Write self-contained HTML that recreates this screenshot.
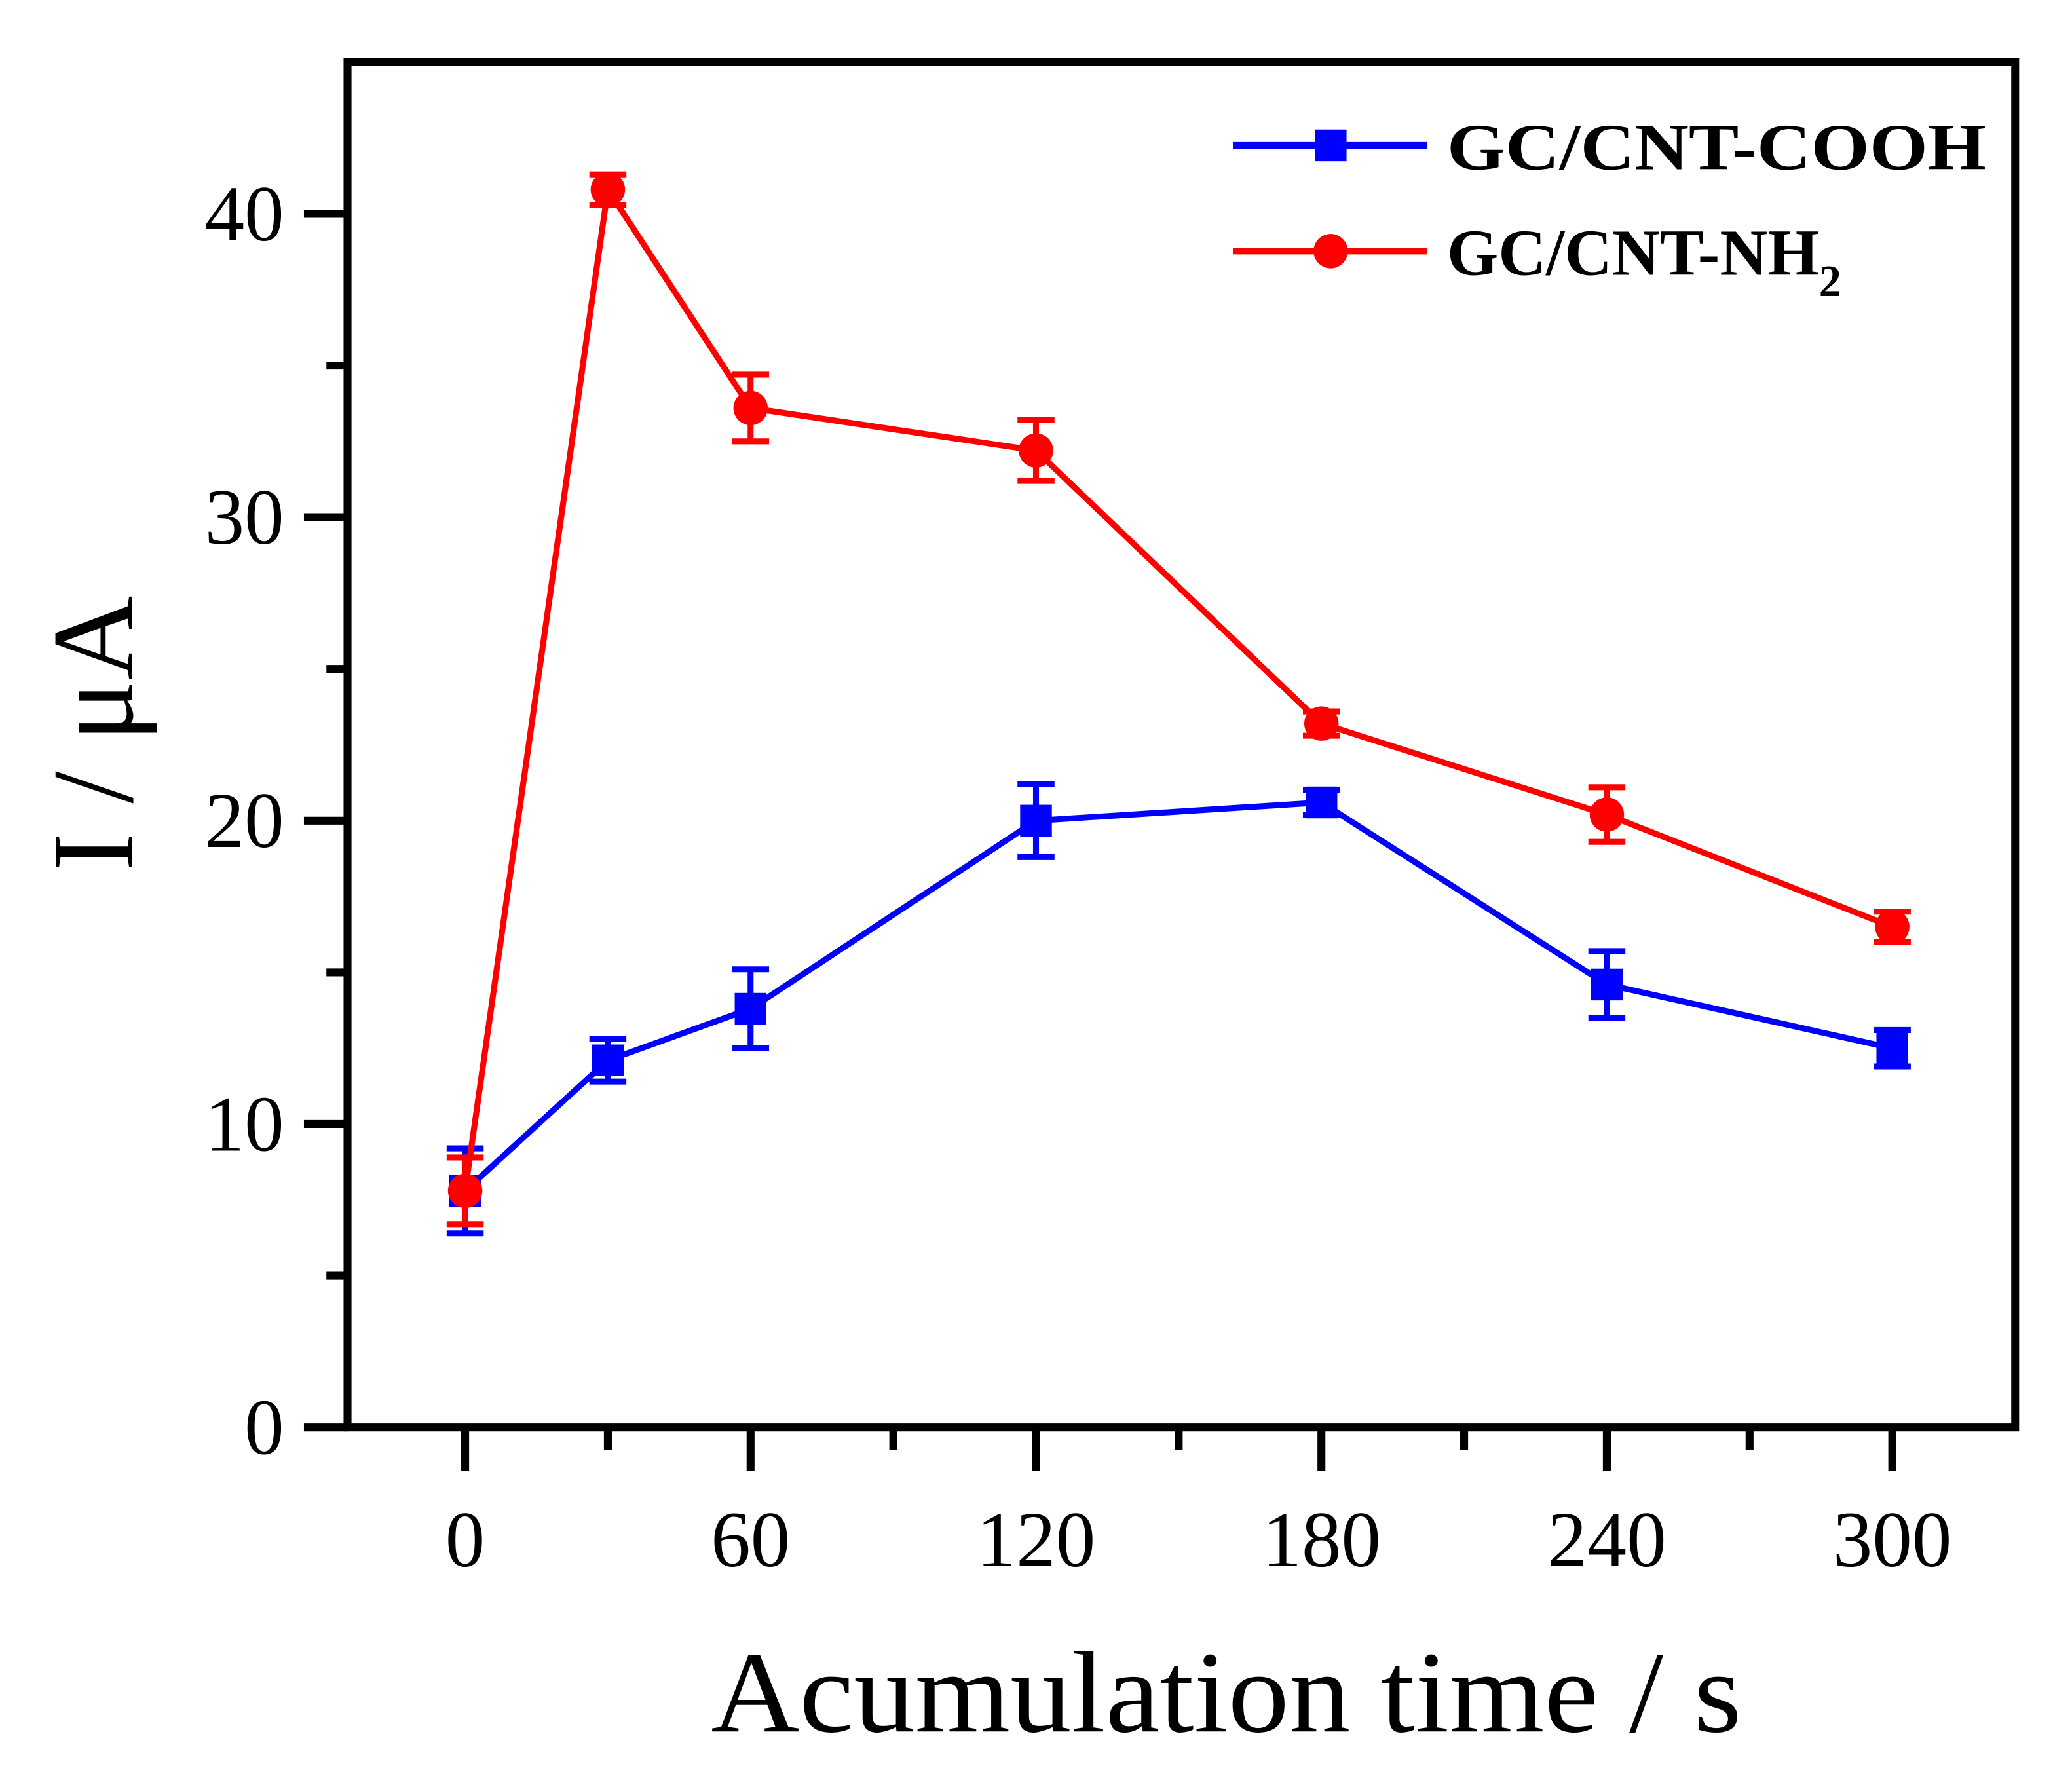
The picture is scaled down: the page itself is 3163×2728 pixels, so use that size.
<!DOCTYPE html>
<html><head><meta charset="utf-8"><style>html,body{margin:0;padding:0;background:#fff}svg{display:block}</style></head>
<body>
<svg width="3163" height="2728" viewBox="0 0 1568 1352" preserveAspectRatio="none" xmlns="http://www.w3.org/2000/svg" font-family="'Liberation Serif', serif">
<g id="plot"></g>
<text x="928" y="1310" font-size="88" text-anchor="middle" textLength="780" lengthAdjust="spacingAndGlyphs">Acumulation time / s</text>
<text transform="translate(100,555) rotate(-90)" font-size="88" text-anchor="middle">I / μA</text>
<g font-weight="bold" font-size="50">
<line x1="933" y1="110" x2="1080" y2="110" stroke="#0000ff" stroke-width="5"/>
<rect x="995" y="98" width="24" height="24" fill="#0000ff"/>
<text x="1095" y="128" textLength="408" lengthAdjust="spacingAndGlyphs">GC/CNT-COOH</text>
<line x1="933" y1="190" x2="1080" y2="190" stroke="#ff0000" stroke-width="5"/>
<circle cx="1007" cy="190" r="13" fill="#ff0000"/>
<text x="1095" y="208">GC/CNT-NH<tspan font-size="34" dy="16">2</tspan></text>
</g>
</svg>
<script>
const xValues=[0,30,60,120,180,240,300];
const coohValues=[7.8,12.1,13.8,20.0,20.6,14.6,12.5];
const coohErr=[1.4,0.7,1.3,1.2,0.4,1.1,0.6];
const nh2Values=[7.8,40.8,33.6,32.2,23.2,20.2,16.5];
const nh2Err=[1.1,0.5,1.1,1.0,0.4,0.9,0.5];
const xTicks=[0,60,120,180,240,300];
const xMinor=[30,90,150,210,270];
const yTicks=[0,10,20,30,40];
const yMinor=[5,15,25,35];
const NS='http://www.w3.org/2000/svg';
const L=263,R=1525,T=47,B=1080;
const xs=v=>352+v*(1432-352)/300;
const ys=v=>B-v*(B-T)/45;
const g=document.getElementById('plot');
function mk(t,a){const e=document.createElementNS(NS,t);for(const k in a)e.setAttribute(k,a[k]);g.appendChild(e);return e;}
const frame=mk('rect',{x:L,y:T,width:R-L,height:B-T,fill:'none',stroke:'#000','stroke-width':6});


yTicks.forEach(v=>{const l=mk('line',{x1:230,x2:L,y1:ys(v),y2:ys(v),stroke:'#000','stroke-width':6});


const t=mk('text',{x:215,y:ys(v)+20,'font-size':60,'text-anchor':'end'});t.textContent=v;

});
yMinor.forEach(v=>{const l=mk('line',{x1:247,x2:L,y1:ys(v),y2:ys(v),stroke:'#000','stroke-width':6});

});
xTicks.forEach(v=>{const l=mk('line',{x1:xs(v),x2:xs(v),y1:B,y2:1113,stroke:'#000','stroke-width':6});


const t=mk('text',{x:xs(v),y:1185,'font-size':60,'text-anchor':'middle'});t.textContent=v;

});
xMinor.forEach(v=>{const l=mk('line',{x1:xs(v),x2:xs(v),y1:B,y2:1097,stroke:'#000','stroke-width':6});

});
function series(vals,errs,color,shape,name){
 const pl=mk('polyline',{points:vals.map((v,i)=>xs(xValues[i])+','+ys(v)).join(' '),fill:'none',stroke:color,'stroke-width':4.5});
 
 
 vals.forEach((v,i)=>{const x=xs(xValues[i]),y1=ys(v+errs[i]),y2=ys(v-errs[i]);
  const e=mk('path',{d:`M${x},${y1}V${y2}M${x-14},${y1}H${x+14}M${x-14},${y2}H${x+14}`,stroke:color,'stroke-width':4.5,fill:'none'});
  
  
  let m;
  if(shape==='sq')m=mk('rect',{x:x-12,y:ys(v)-12,width:24,height:24,fill:color});
  else m=mk('circle',{cx:x,cy:ys(v),r:13,fill:color});
  
  });
}
series(coohValues,coohErr,'#0000ff','sq','cooh');
series(nh2Values,nh2Err,'#ff0000','ci','nh2');
</script>
</body></html>
